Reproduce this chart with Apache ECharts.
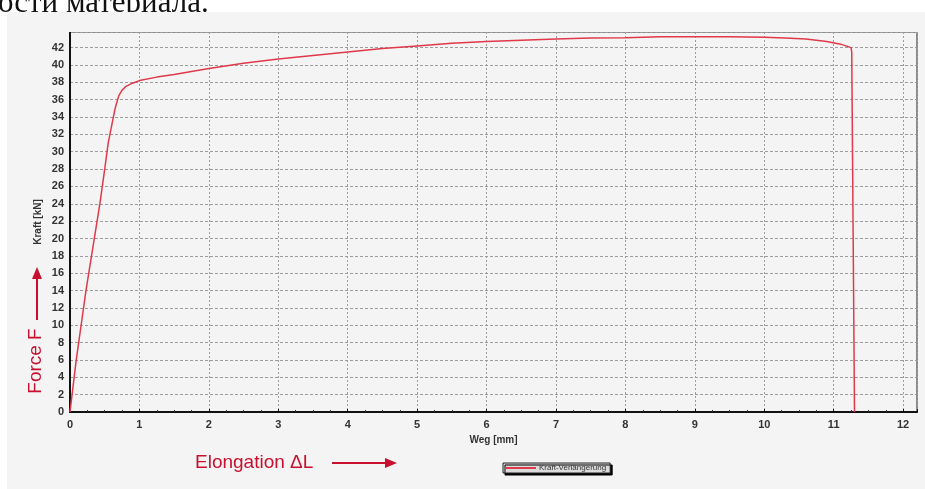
<!DOCTYPE html>
<html>
<head>
<meta charset="utf-8">
<script src="https://cdn.jsdelivr.net/npm/echarts@6/dist/echarts.min.js"></script>
<style>html,body{margin:0;padding:0;background:#fff}#c{width:925px;height:489px}</style>
</head>
<body>
<div id="c"></div>
<script>
const elongation = [0, 0.03, 0.09, 0.16, 0.23, 0.31, 0.37, 0.43, 0.5, 0.55, 0.6, 0.65, 0.7, 0.75, 0.8, 0.9, 1.0, 1.25, 1.5, 2, 2.5, 3, 3.5, 4, 4.5, 5, 5.5, 6, 6.5, 7, 7.5, 8, 8.5, 9, 9.5, 10, 10.3, 10.6, 10.9, 11.1, 11.25, 11.26, 11.3];
const force = [0, 2, 6, 10, 14, 18, 21, 24, 28, 31, 33, 35, 36.4, 37.1, 37.5, 37.9, 38.2, 38.6, 38.9, 39.6, 40.2, 40.7, 41.1, 41.5, 41.9, 42.2, 42.5, 42.7, 42.85, 43.0, 43.1, 43.15, 43.25, 43.25, 43.25, 43.2, 43.1, 43.0, 42.7, 42.4, 42.0, 41.5, 0];
const seriesName = 'Kraft-Verlängerung';
const xAxisName = 'Weg [mm]';
const yAxisName = 'Kraft [kN]';

const chart = echarts.init(document.getElementById('c'));
const font = 'Liberation Sans, Arial, sans-serif';
const red = '#c8102e';
chart.setOption({
  backgroundColor: '#f4f4f4',
  animation: false,
  grid: { left: 70, top: 32, right: 8, bottom: 77, show: true, borderColor: '#8a8a8a', borderWidth: 2, backgroundColor: 'transparent' },
  xAxis: {
    type: 'value', min: 0, max: 12.2, interval: 1,
    name: xAxisName, nameLocation: 'middle', nameGap: 22,
    nameTextStyle: { fontFamily: font, fontSize: 10, fontWeight: 'bold', color: '#333' },
    axisLine: { show: true, onZero: false, lineStyle: { color: '#111', width: 2 } },
    axisTick: { show: true, length: 3, inside: true, lineStyle: { color: '#111' } },
    minorTick: { show: true, splitNumber: 4, length: 2, lineStyle: { color: '#333' } },
    axisLabel: { fontFamily: font, fontSize: 11, fontWeight: 'bold', color: '#333', margin: 7,
      formatter: v => (Number.isInteger(v) ? String(v) : '') },
    splitLine: { show: true, lineStyle: { color: '#9c9c9c', type: [2, 2], width: 1 } }
  },
  yAxis: {
    type: 'value', min: 0, max: 43.8, interval: 2,
    axisLine: { show: true, lineStyle: { color: '#111', width: 2 } },
    axisTick: { show: false },
    axisLabel: { fontFamily: font, fontSize: 11, fontWeight: 'bold', color: '#333', margin: 6,
      formatter: v => (Number.isInteger(v) ? String(v) : '') },
    splitLine: { show: true, lineStyle: { color: '#9c9c9c', type: [3, 2], width: 1 } }
  },
  legend: {
    left: 503, top: 463, padding: [1, 4, 1, 3], itemGap: 0,
    itemWidth: 30, itemHeight: 2, icon: 'rect',
    backgroundColor: '#dcdcdc', borderColor: '#222', borderWidth: 1,
    shadowColor: '#000', shadowBlur: 0, shadowOffsetX: 2, shadowOffsetY: 2,
    textStyle: { fontFamily: font, fontSize: 8, color: '#333', padding: [0, 0, 0, -2] },
    data: [seriesName]
  },
  series: [{
    name: seriesName, type: 'line', showSymbol: false, symbol: 'none',
    lineStyle: { color: '#e0394a', width: 1.5 }, itemStyle: { color: '#e0394a' },
    data: elongation.map((x, i) => [x, force[i]])
  }],
  graphic: [
    { type: 'rect', shape: { x: 0, y: 0, width: 925, height: 12 }, style: { fill: '#fff' }, silent: true },
    { type: 'rect', shape: { x: 0, y: 0, width: 7, height: 489 }, style: { fill: '#fff' }, silent: true },
    { type: 'text', x: -2, y: 19, z: 10, style: { text: 'ости материала.', font: '31px "Liberation Serif", serif', fill: '#111', verticalAlign: 'bottom' } },
    { type: 'rect', z: 11, shape: { x: 7, y: 12, width: 918, height: 20 }, style: { fill: '#f4f4f4' }, silent: true },
    { type: 'text', x: 38, y: 222, rotation: Math.PI / 2, style: { text: yAxisName, font: 'bold 10px "Liberation Sans", Arial', fill: '#333', align: 'center', verticalAlign: 'middle' } },
    { type: 'text', x: 36, y: 361, rotation: Math.PI / 2, style: { text: 'Force F', font: '19px "Liberation Sans", Arial', fill: red, align: 'center', verticalAlign: 'middle' } },
    { type: 'line', shape: { x1: 37, y1: 320, x2: 37, y2: 278 }, style: { stroke: red, lineWidth: 2 } },
    { type: 'polygon', shape: { points: [[37, 267], [32, 279], [42, 279]] }, style: { fill: red } },
    { type: 'text', x: 195, y: 463, style: { text: 'Elongation ΔL', font: '19px "Liberation Sans", Arial', fill: red, verticalAlign: 'middle' } },
    { type: 'line', shape: { x1: 332, y1: 463, x2: 386, y2: 463 }, style: { stroke: red, lineWidth: 2 } },
    { type: 'polygon', shape: { points: [[397, 463], [385, 458], [385, 468]] }, style: { fill: red } }
  ]
});
</script>
</body>
</html>
